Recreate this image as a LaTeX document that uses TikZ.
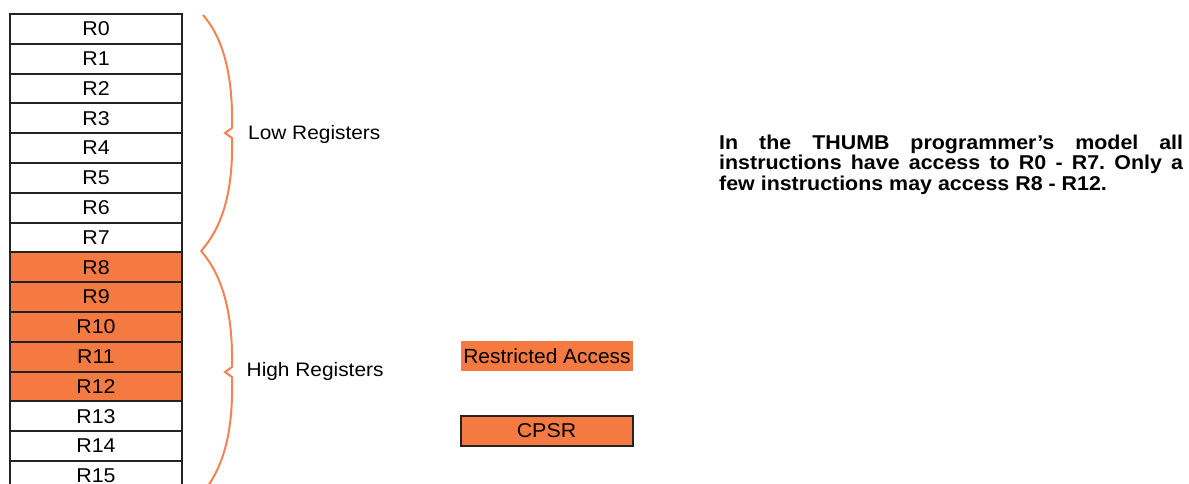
\documentclass[tikz,border=0pt]{standalone}
\usepackage{fontspec}
\setmainfont{Liberation Sans}
\usepackage{graphicx}
\definecolor{regorange}{RGB}{245,122,66}
\definecolor{braceorange}{RGB}{247,130,80}
\definecolor{regline}{RGB}{35,35,35}
\tikzset{
  reg/.style={draw=regline, line width=2pt, minimum width=172pt, minimum height=29.8pt, inner sep=0pt, font=\fontsize{20}{24}\selectfont},
  hireg/.style={reg, fill=regorange},
  bracepath/.style={draw=braceorange, line width=2pt, line join=miter},
  lbl/.style={anchor=base west, inner sep=0pt, font=\fontsize{19.5}{24}\selectfont},
}
\newcommand{\wide}[1]{\scalebox{1.07}[1]{#1}}
\begin{document}
\begin{tikzpicture}[x=1pt,y=-1pt]
\useasboundingbox (0,0) rectangle (1189,484);
\clip (0,0) rectangle (1189,484);
% registers
\foreach \i in {0,...,15}{
  \pgfmathsetmacro{\cy}{14+29.8*\i+14.9}
  \ifnum\i<8
    \node[reg] (r\i) at (96,\cy) {\wide{R\i}};
  \else\ifnum\i<13
    \node[hireg] (r\i) at (96,\cy) {\wide{R\i}};
  \else
    \node[reg] (r\i) at (96,\cy) {\wide{R\i}};
  \fi\fi
}
% braces
\draw[bracepath] (203,15) .. controls (225,40) and (233,80) .. (232,128) -- (225,133) -- (232,138) .. controls (233,183) and (226,223) .. (201,251);
\draw[bracepath] (201,251) .. controls (225,278) and (233,320) .. (232,367) -- (225,372) -- (232,377) .. controls (233,420) and (228,460) .. (205,490);
% labels
\node[lbl] (low) at (248,139.5) {\wide{Low Registers}};
\node[lbl] (high) at (246.5,376.7) {\wide{High Registers}};
% legend
\node[fill=regorange, minimum width=172pt, minimum height=30pt, inner sep=0pt, font=\fontsize{20.5}{24}\selectfont] (restricted) at (547,356) {\scalebox{1.02}[1]{Restricted Access}};
\node[draw=regline, line width=2pt, fill=regorange, minimum width=172pt, minimum height=30pt, inner sep=0pt, font=\fontsize{20}{24}\selectfont] (cpsr) at (546.5,430.5) {\wide{CPSR}};
% description
\node[anchor=base west, inner sep=0pt] (desc) at (719,149.3) {\scalebox{1.07}[1]{\parbox[t]{433.6pt}{\fontsize{20}{20.7}\selectfont\bfseries\frenchspacing In the THUMB programmer’s model all\linebreak instructions have access to R0 - R7. Only a\linebreak few instructions may access R8 - R12.}}};
\end{tikzpicture}
\end{document}
